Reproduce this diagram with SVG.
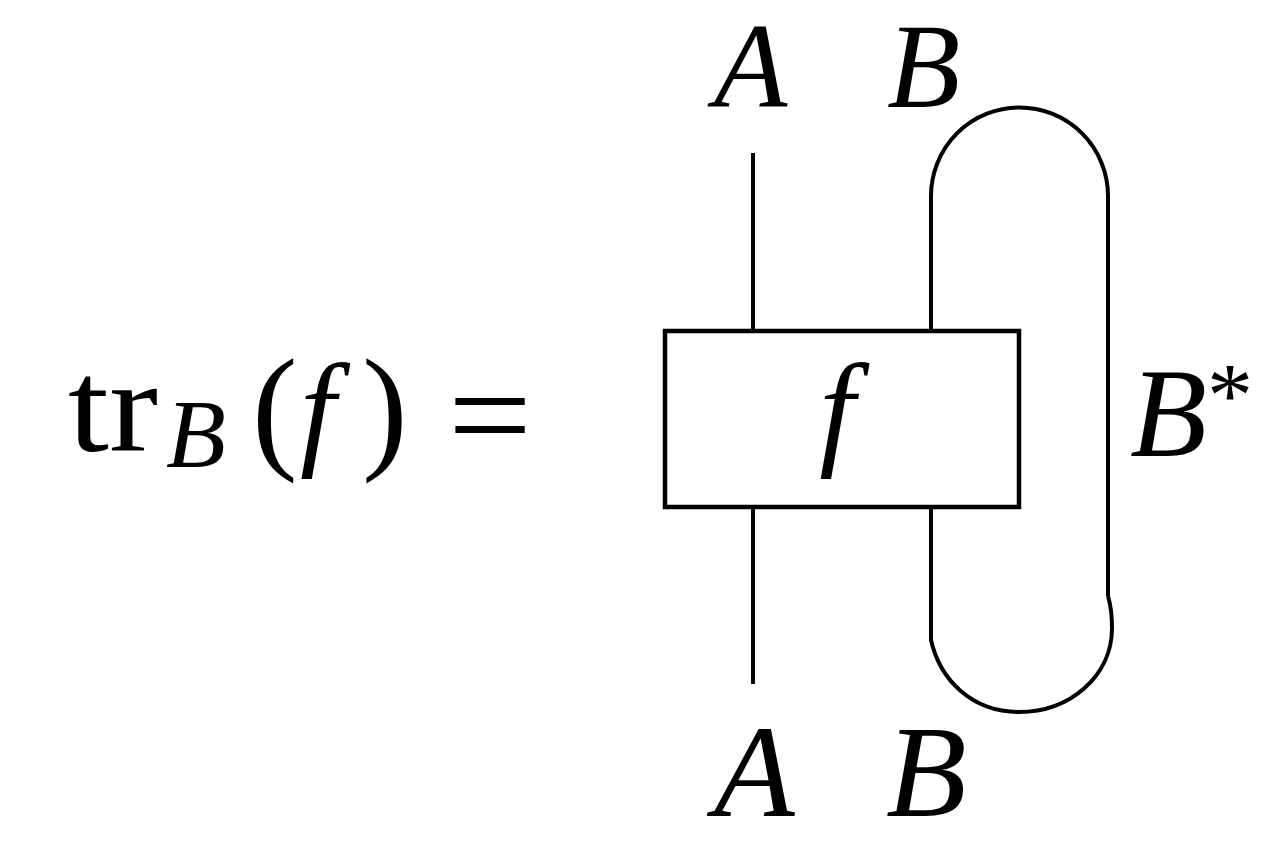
<svg xmlns="http://www.w3.org/2000/svg" width="1280" height="866" viewBox="0 0 1280 866">
<style>
.w{fill:none;stroke:#000;stroke-width:4;stroke-linecap:butt}
.t{font-family:"Liberation Serif","Times New Roman",serif;fill:#000}
.i{font-style:italic}
</style>
<rect width="1280" height="866" fill="#fff"/>
<g id="formula" class="t">
<text x="68" y="451" font-size="132" textLength="90" lengthAdjust="spacingAndGlyphs">tr</text>
<text x="166" y="467" font-size="98" class="i">B</text>
<text x="252" y="454" font-size="137">(</text>
<text x="300" y="452" font-size="128" class="i">f</text>
<text x="362" y="454" font-size="137">)</text>
<text x="448" y="462" font-size="140" textLength="84" lengthAdjust="spacingAndGlyphs">=</text>
</g>
<g id="connectors">
<path class="w" d="M753,153 V331"/>
<path class="w" d="M753,507 V684"/>
<path class="w" d="M931,331 V196 A88.5,88.5 0 0 1 1108,196 V596"/>
<path class="w" d="M931,507 V640 C940,680 972,712 1019,712 C1070,712 1112,676 1112,628 C1112,618 1111,606 1108,596"/>
</g>
<g id="node-f">
<rect x="665" y="331" width="354" height="176" fill="none" stroke="#000" stroke-width="4.5"/>
<text class="t i" x="837" y="452" font-size="128" text-anchor="middle">f</text>
</g>
<g id="labels" class="t i">
<text x="714" y="107" font-size="120">A</text>
<text x="887" y="107" font-size="120">B</text>
<text x="714" y="816" font-size="132">A</text>
<text x="886" y="816" font-size="132">B</text>
<text x="1130" y="456" font-size="126">B<tspan font-style="normal" font-size="92" dy="-30">*</tspan></text>
</g>
</svg>
